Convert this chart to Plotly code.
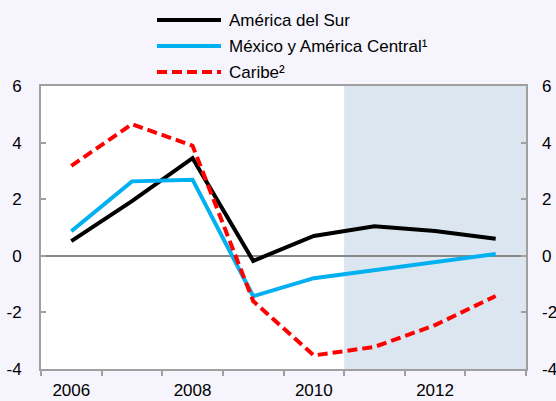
import plotly.graph_objects as go

years = ["2006", "2007", "2008", "2009", "2010", "2011", "2012", "2013"]
tick_labels = ["2006", "", "2008", "", "2010", "", "2012", ""]
america_sur = [0.52, 1.93, 3.45, -0.18, 0.70, 1.04, 0.88, 0.60]
mexico_ac = [0.87, 2.63, 2.69, -1.43, -0.79, -0.50, -0.22, 0.06]
caribe = [3.18, 4.65, 3.89, -1.60, -3.52, -3.22, -2.45, -1.42]
y_ticks = [-4, -2, 0, 2, 4, 6]
y_tick_text = ["-4", "-2", "0", "2", "4", "6"]

names = ["América del Sur", "México y América Central¹", "Caribe²"]
colors = ["#000000", "#00B0F0", "#FF0000"]
dashes = ["solid", "solid", "10px,5px"]
series = [america_sur, mexico_ac, caribe]

W, H = 556, 401
L, R, T, B = 41, 30, 86, 32
pw, ph = W - L - R, H - T - B

def px_x(p):
    return (p - L) / pw

def px_y(p):
    return (H - B - p) / ph

fig = go.Figure()
for n, c, d, s in zip(names, colors, dashes, series):
    fig.add_trace(go.Scatter(x=years, y=s, name=n, mode="lines",
                             line=dict(color=c, width=4, dash=d),
                             showlegend=False))
# invisible trace to anchor the right-hand axis
fig.add_trace(go.Scatter(x=years, y=america_sur, yaxis="y2", mode="lines",
                         line=dict(width=0), opacity=0, showlegend=False,
                         hoverinfo="skip"))

font = dict(family="Liberation Sans, Arial, sans-serif", size=17, color="#000000")
axis_col = "#A0A0A0"

shapes = [dict(type="rect", xref="x", yref="paper", x0=4.5, x1=7.5, y0=0, y1=1,
               fillcolor="#DCE6F1", line=dict(width=0), layer="below")]
annotations = []
leg_y = [20, 46, 72]
for n, c, d, yy in zip(names, colors, dashes, leg_y):
    shapes.append(dict(type="line", xref="paper", yref="paper",
                       x0=px_x(157), x1=px_x(221), y0=px_y(yy), y1=px_y(yy),
                       line=dict(color=c, width=4, dash=d)))
    annotations.append(dict(text=n, xref="paper", yref="paper", x=px_x(227),
                            y=px_y(yy + 1), xanchor="left", yanchor="middle",
                            showarrow=False, font=font))

fig.update_layout(
    width=W, height=H,
    margin=dict(l=L, r=R, t=T, b=B, pad=0, autoexpand=False),
    paper_bgcolor="#F6F4FC", plot_bgcolor="#FFFFFF",
    font=font,
    showlegend=False,
    shapes=shapes, annotations=annotations,
    xaxis=dict(type="category", tickvals=years, ticktext=tick_labels,
               tickson="boundaries", ticks="outside", ticklen=5, tickwidth=2,
               tickcolor=axis_col, showline=True, linecolor=axis_col, linewidth=2,
               mirror=True, showgrid=False, zeroline=False, range=[-0.5, 7.5],
               tickfont=font, automargin=False, ticklabelstandoff=5),
    yaxis=dict(range=[-4, 6], tickvals=y_ticks, ticktext=y_tick_text,
               ticks="inside", ticklen=5,
               tickwidth=2, tickcolor=axis_col, showline=True, linecolor=axis_col,
               linewidth=2, mirror=True, showgrid=False, zeroline=True,
               zerolinecolor="#888888", zerolinewidth=2, tickfont=font,
               ticklabelstandoff=14, automargin=False),
    yaxis2=dict(range=[-4, 6], tickvals=y_ticks, ticktext=y_tick_text,
                overlaying="y", side="right",
                ticks="inside", ticklen=5, tickwidth=2, tickcolor=axis_col,
                showline=False, showgrid=False, zeroline=False, tickfont=font,
                ticklabelstandoff=15, automargin=False),
)

fig.write_html("out.html", config={"displayModeBar": False},
               post_script="document.body.style.margin='0px';"
                           "document.body.style.background='#F6F4FC';")
